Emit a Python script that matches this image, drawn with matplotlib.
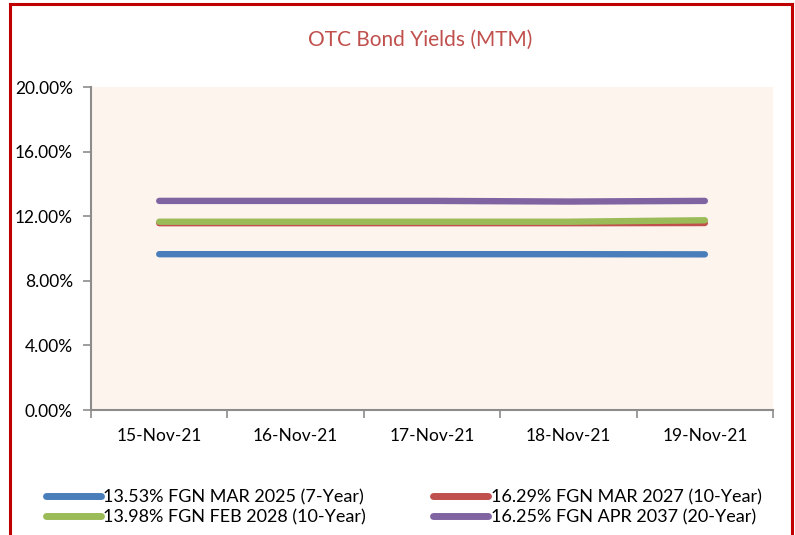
import matplotlib
matplotlib.use("Agg")
import matplotlib.pyplot as plt
from matplotlib.lines import Line2D
from matplotlib.ticker import FuncFormatter, FixedLocator

plt.rcParams['font.family'] = ['Lato', 'DejaVu Sans']

dates = ["15-Nov-21", "16-Nov-21", "17-Nov-21", "18-Nov-21", "19-Nov-21"]
fgn_2025 = [9.65, 9.65, 9.65, 9.65, 9.64]
fgn_2027 = [11.57, 11.57, 11.57, 11.57, 11.58]
fgn_2028 = [11.66, 11.66, 11.66, 11.66, 11.75]
fgn_2037 = [12.95, 12.95, 12.95, 12.91, 12.95]
series_names = ["13.53% FGN MAR 2025 (7-Year)", "16.29% FGN MAR 2027 (10-Year)",
                "13.98% FGN FEB 2028 (10-Year)", "16.25% FGN APR 2037 (20-Year)"]
y_ticks = [0, 4, 8, 12, 16, 20]

colors = ["#4A7EBB", "#C0504D", "#9BBB59", "#8064A2"]
series = [fgn_2025, fgn_2027, fgn_2028, fgn_2037]

fig = plt.figure(figsize=(7.95, 5.35), dpi=100)
ax = fig.add_axes([0.1145, 0.2336, 0.8579, 0.6037])
ax.set_facecolor("#FDF4EE")

x = list(range(len(dates)))
handles = []
for vals, c, name in zip(series, colors, series_names):
    h, = ax.plot(x, vals, color=c, lw=4.6, solid_capstyle="round", label=name)
    handles.append(h)

ax.set_ylim(0, 20)
ax.set_xlim(-0.5, len(dates) - 0.5)
ax.yaxis.set_major_locator(FixedLocator(y_ticks))
ax.yaxis.set_major_formatter(FuncFormatter(lambda v, p: f"{v:.2f}%"))
ax.set_xticks(x)
ax.set_xticklabels(dates)
ax.set_xticks([i - 0.5 for i in range(len(dates) + 1)], minor=True)
ax.tick_params(axis="x", which="major", length=0, pad=13, labelsize=12.5)
ax.tick_params(axis="x", which="minor", length=6, width=1.2, color="#8C8C8C", direction="out")
ax.tick_params(axis="y", length=6, width=1.2, color="#8C8C8C", labelsize=12.5, pad=7)
for s in ["top", "right"]:
    ax.spines[s].set_visible(False)
for s in ["left", "bottom"]:
    ax.spines[s].set_color("#8C8C8C")
    ax.spines[s].set_linewidth(1.5)

fig.text(0.528, 0.925, "OTC Bond Yields (MTM)", ha="center", va="center",
         color="#C0504D", fontsize=15)

order = [0, 2, 1, 3]
leg = fig.legend([handles[i] for i in order], [series_names[i] for i in order],
                 ncol=2, loc="lower left", bbox_to_anchor=(0.045, 0.0),
                 frameon=False, fontsize=13, handlelength=3.05, handletextpad=0.15,
                 columnspacing=3.7, labelspacing=0.2, borderaxespad=0.15)
for lh in leg.get_lines():
    lh.set_linewidth(5)

# red outer border
fig.add_artist(Line2D([0.013, 0.013], [0.0, 0.993], color="#C00000", lw=2.2, transform=fig.transFigure))
fig.add_artist(Line2D([0.013, 0.996], [0.993, 0.993], color="#C00000", lw=2.2, transform=fig.transFigure))
fig.add_artist(Line2D([0.996, 0.996], [0.0, 0.993], color="#C00000", lw=2.2, transform=fig.transFigure))

fig.savefig("out.png", dpi=100)
